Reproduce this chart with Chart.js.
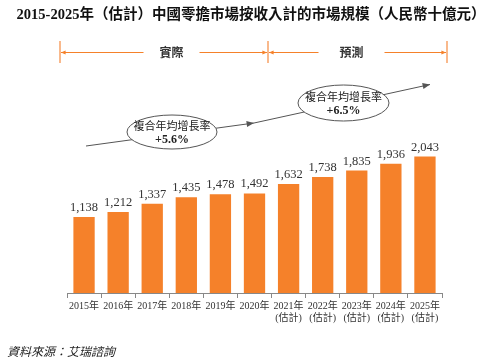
<!DOCTYPE html>
<html>
<head>
<meta charset="utf-8">
<script src="https://cdn.jsdelivr.net/npm/chart.js@4/dist/chart.umd.min.js"></script>
<style>
  body { margin: 0; background: #fff; }
  #grafico { display: block; }
</style>
</head>
<body>
<canvas id="grafico" width="501" height="364"></canvas>
<script>
  // dados do grafico
  var anos = ['2015年', '2016年', '2017年', '2018年', '2019年', '2020年',
              '2021年', '2022年', '2023年', '2024年', '2025年'];
  var estimado = [false, false, false, false, false, false, true, true, true, true, true];
  var valores = [1138, 1212, 1337, 1435, 1478, 1492, 1632, 1738, 1835, 1936, 2043];

  // textos
  var titulo = '2015-2025年（估計）中國零擔市場按收入計的市場規模（人民幣十億元）';
  var periodos = ['實際', '預測'];
  var cagrTexto = '複合年均增長率';
  var cagrValores = ['+5.6%', '+6.5%'];
  var fonte = '資料來源：艾瑞諮詢';

  var laranja = '#f5812a';
  var serif = "'Liberation Serif', 'Noto Sans CJK TC', serif";
  var sans = "'Noto Sans CJK TC', 'Noto Sans', sans-serif";

  // monta os rotulos do eixo x (com linha extra nos estimados)
  var rotulos = [];
  for (var i = 0; i < anos.length; i++) {
    if (estimado[i]) {
      rotulos.push([anos[i], '(估計)']);
    } else {
      rotulos.push([anos[i]]);
    }
  }

  // desenha seta pequena
  function seta(ctx, x1, y1, x2, y2, tam, cor) {
    var ang = Math.atan2(y2 - y1, x2 - x1);
    ctx.fillStyle = cor;
    ctx.beginPath();
    ctx.moveTo(x2, y2);
    ctx.lineTo(x2 - tam * Math.cos(ang - 0.4), y2 - tam * Math.sin(ang - 0.4));
    ctx.lineTo(x2 - tam * Math.cos(ang + 0.4), y2 - tam * Math.sin(ang + 0.4));
    ctx.closePath();
    ctx.fill();
  }

  // elipse com o texto do cagr
  function elipse(ctx, cx, cy, rx, ry, valor) {
    ctx.fillStyle = '#fff';
    ctx.strokeStyle = '#555';
    ctx.lineWidth = 1;
    ctx.beginPath();
    ctx.ellipse(cx, cy, rx, ry, 0, 0, Math.PI * 2);
    ctx.fill();
    ctx.stroke();
    ctx.fillStyle = '#222';
    ctx.textAlign = 'center';
    ctx.textBaseline = 'middle';
    ctx.font = '11px ' + sans;
    ctx.fillText(cagrTexto, cx, cy - 6);
    ctx.font = 'bold 12px ' + serif;
    ctx.fillText(valor, cx, cy + 8);
  }

  // plugin que desenha titulo, colchetes, setas, rotulos e fonte
  var extras = {
    id: 'extras',
    afterDatasetsDraw: function(chart) {
      var ctx = chart.ctx;
      var meta = chart.getDatasetMeta(0);
      ctx.save();

      // valores em cima das barras
      ctx.fillStyle = '#333';
      ctx.font = '12.5px ' + serif;
      ctx.textAlign = 'center';
      ctx.textBaseline = 'bottom';
      for (var i = 0; i < meta.data.length; i++) {
        var barra = meta.data[i];
        ctx.fillText(valores[i].toLocaleString('en-US'), barra.x, barra.y - 3);
      }

      // titulo
      ctx.fillStyle = '#111';
      ctx.font = 'bold 14.5px ' + serif;
      ctx.textBaseline = 'middle';
      ctx.fillText(titulo, 251, 15);

      // colchetes de periodo (real / previsto)
      var xs = [60, 268, 447];
      var yLinha = 52.5;
      ctx.strokeStyle = '#f9b98c';
      ctx.lineWidth = 2;
      for (var k = 0; k < xs.length; k++) {
        ctx.beginPath();
        ctx.moveTo(xs[k], 41);
        ctx.lineTo(xs[k], 63);
        ctx.stroke();
      }
      var centros = [171.5, 351.5];
      var meias = [28, 33];
      ctx.strokeStyle = laranja;
      ctx.lineWidth = 1.2;
      for (var p = 0; p < 2; p++) {
        var a = xs[p] + 1, b = xs[p + 1] - 1;
        var c = centros[p];
        ctx.beginPath();
        ctx.moveTo(a, yLinha); ctx.lineTo(c - meias[p], yLinha);
        ctx.moveTo(c + meias[p], yLinha); ctx.lineTo(b, yLinha);
        ctx.stroke();
        seta(ctx, a + 6, yLinha, a, yLinha, 5, laranja);
        seta(ctx, b - 6, yLinha, b, yLinha, 5, laranja);
        ctx.fillStyle = '#333';
        ctx.font = 'bold 12px ' + sans;
        ctx.fillText(periodos[p], c, yLinha);
      }

      // linhas de tendencia com setas
      ctx.strokeStyle = '#555';
      ctx.lineWidth = 1;
      ctx.beginPath();
      ctx.moveTo(86, 146);
      ctx.lineTo(254, 123);
      ctx.lineTo(430, 84.5);
      ctx.stroke();
      seta(ctx, 86, 146, 254, 123, 8, '#555');
      seta(ctx, 254, 123, 430, 84.5, 8, '#555');

      elipse(ctx, 172, 132, 45, 17, cagrValores[0]);
      elipse(ctx, 343.5, 103, 45.5, 18, cagrValores[1]);

      // fonte dos dados
      ctx.fillStyle = '#222';
      ctx.textAlign = 'left';
      ctx.font = 'italic 12px ' + sans;
      ctx.fillText(fonte, 7, 351);

      ctx.restore();
    }
  };

  var ctx = document.getElementById('grafico').getContext('2d');
  var chart = new Chart(ctx, {
    type: 'bar',
    data: {
      labels: rotulos,
      datasets: [{
        data: valores,
        backgroundColor: laranja,
        borderWidth: 0,
        categoryPercentage: 1,
        barPercentage: 0.625
      }]
    },
    options: {
      responsive: false,
      animation: false,
      layout: {
        padding: { left: 67, right: 59, top: 76, bottom: 0 }
      },
      plugins: {
        legend: { display: false },
        title: { display: false },
        tooltip: { enabled: false }
      },
      scales: {
        x: {
          afterFit: function(escala) {
            escala.height = 71; // fixa o eixo pra base ficar em y=293
          },
          border: { color: '#888', width: 1 },
          grid: {
            display: true,
            drawOnChartArea: false,
            drawTicks: true,
            tickLength: 5,
            color: '#888',
            offset: true
          },
          ticks: {
            color: '#333',
            padding: 2,
            autoSkip: false,
            maxRotation: 0,
            font: { family: serif, size: 10, lineHeight: 1.25 }
          }
        },
        y: {
          display: false,
          min: 0,
          max: 3250
        }
      }
    },
    plugins: [extras]
  });
</script>
</body>
</html>
